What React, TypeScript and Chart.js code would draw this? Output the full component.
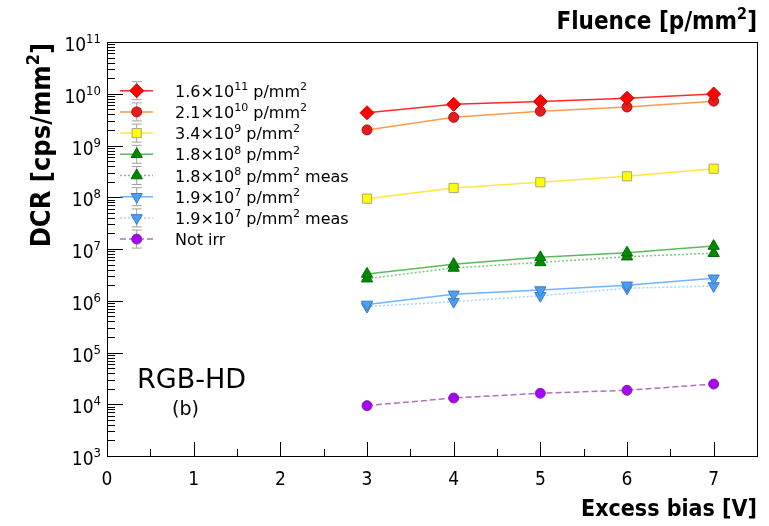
import React, { useEffect, useRef } from 'react';
import { Chart, registerables } from 'chart.js';

Chart.register(...registerables);

// ---------- data ----------
const biasV = [3, 4, 5, 6, 7];
const dcrF16e11 = [4.3e9, 6.25e9, 7.1e9, 8.2e9, 9.9e9];
const dcrF21e10 = [2.0e9, 3.5e9, 4.6e9, 5.55e9, 7.2e9];
const dcrF34e9 = [9.4e7, 1.51e8, 1.95e8, 2.54e8, 3.56e8];
const dcrF18e8 = [3.3e6, 5.1e6, 6.9e6, 8.5e6, 1.14e7];
const dcrF18e8Meas = [2.67e6, 4.3e6, 5.5e6, 7.1e6, 8.3e6];
const dcrF19e7 = [8.5e5, 1.33e6, 1.61e6, 1.99e6, 2.72e6];
const dcrF19e7Meas = [7.7e5, 9.6e5, 1.25e6, 1.74e6, 1.93e6];
const dcrNotIrr = [9.4e3, 1.32e4, 1.63e4, 1.86e4, 2.46e4];

const xTickLabels = ['0', '1', '2', '3', '4', '5', '6', '7'];
const yTickExponents = [3, 4, 5, 6, 7, 8, 9, 10, 11];

const legendMantissa = ['1.6', '2.1', '3.4', '1.8', '1.8', '1.9', '1.9', ''];
const legendExponent = ['11', '10', '9', '8', '8', '7', '7', ''];
const legendSuffix = ['', '', '', '', ' meas', '', ' meas', ''];
const legendPlain = ['', '', '', '', '', '', '', 'Not irr'];

const xTitle = 'Excess bias [V]';
const yTitle = 'DCR [cps/mm';
const topTitle = 'Fluence [p/mm';
const detectorLabel = 'RGB-HD';
const panelLabel = '(b)';

const FONT_C = '"DejaVu Sans Condensed", "DejaVu Sans", sans-serif';
const FONT_R = '"DejaVu Sans", sans-serif';

type Run = { t: string; sup?: boolean };

const seriesStyle = [
  { data: dcrF16e11, line: '#ff2a2a', fill: '#ff0000', border: '#e00000', shape: 'rectRot', r: 7, dash: [] as number[] },
  { data: dcrF21e10, line: '#ff9a4a', fill: '#e41c1c', border: '#b01515', shape: 'circle', r: 5, dash: [] as number[] },
  { data: dcrF34e9, line: '#ffe83a', fill: '#ffff00', border: '#a8a878', shape: 'rect', r: 6.5, dash: [] as number[] },
  { data: dcrF18e8, line: '#5cb85c', fill: '#008a00', border: '#006a00', shape: 'triangle', r: 6.5, dash: [] as number[] },
  { data: dcrF18e8Meas, line: '#7cc87c', fill: '#008a00', border: '#006a00', shape: 'triangle', r: 6.5, dash: [2, 2] },
  { data: dcrF19e7, line: '#70b4ff', fill: '#4d9ff0', border: '#3a7cc8', shape: 'triangleDown', r: 6.5, dash: [] as number[] },
  { data: dcrF19e7Meas, line: '#a8d2ff', fill: '#4d9ff0', border: '#3a7cc8', shape: 'triangleDown', r: 6.5, dash: [2, 2] },
  { data: dcrNotIrr, line: '#b070c0', fill: '#a800f8', border: '#7a30a0', shape: 'circle', r: 5, dash: [6, 3] },
];

function runWidth(ctx: CanvasRenderingContext2D, runs: Run[], size: number, weight: string, font: string) {
  let w = 0;
  for (const r of runs) {
    ctx.font = `${weight} ${r.sup ? Math.round(size * 0.68) : size}px ${font}`;
    w += ctx.measureText(r.t).width;
  }
  return w;
}

function drawRuns(
  ctx: CanvasRenderingContext2D,
  runs: Run[],
  x: number,
  y: number,
  size: number,
  weight: string,
  align: 'left' | 'right' | 'center',
  font: string = FONT_C
) {
  const w = runWidth(ctx, runs, size, weight, font);
  let cx = align === 'left' ? x : align === 'right' ? x - w : x - w / 2;
  ctx.textAlign = 'left';
  ctx.textBaseline = 'alphabetic';
  for (const r of runs) {
    const s = r.sup ? Math.round(size * 0.68) : size;
    ctx.font = `${weight} ${s}px ${font}`;
    ctx.fillText(r.t, cx, r.sup ? y - size * 0.42 : y);
    cx += ctx.measureText(r.t).width;
  }
}

function drawMarker(ctx: CanvasRenderingContext2D, shape: string, x: number, y: number, r: number, fill: string, border: string) {
  ctx.save();
  ctx.beginPath();
  if (shape === 'circle') {
    ctx.arc(x, y, r, 0, Math.PI * 2);
  } else if (shape === 'rect') {
    const s = Math.SQRT1_2 * r;
    ctx.rect(x - s, y - s, 2 * s, 2 * s);
  } else if (shape === 'rectRot') {
    ctx.moveTo(x - r, y);
    ctx.lineTo(x, y - r);
    ctx.lineTo(x + r, y);
    ctx.lineTo(x, y + r);
    ctx.closePath();
  } else {
    const dir = shape === 'triangle' ? 1 : -1;
    ctx.moveTo(x, y - dir * r);
    ctx.lineTo(x + r * 0.866, y + dir * r * 0.5);
    ctx.lineTo(x - r * 0.866, y + dir * r * 0.5);
    ctx.closePath();
  }
  ctx.fillStyle = fill;
  ctx.fill();
  ctx.lineWidth = 1;
  ctx.strokeStyle = border;
  ctx.stroke();
  ctx.restore();
}

const framePlugin = {
  id: 'rootFrame',
  afterDraw(chart: any) {
    const ctx: CanvasRenderingContext2D = chart.ctx;
    const xs = chart.scales.x;
    const ys = chart.scales.y;
    const { left, right, top, bottom } = chart.chartArea;
    ctx.save();
    ctx.strokeStyle = '#000';
    ctx.fillStyle = '#000';
    ctx.lineWidth = 1;

    // frame
    ctx.strokeRect(Math.round(left) + 0.5, Math.round(top) + 0.5, Math.round(right - left), Math.round(bottom - top));

    // x ticks
    ctx.beginPath();
    for (let v = 0; v <= 7.5 + 1e-6; v += 0.5) {
      const px = Math.round(xs.getPixelForValue(v)) + 0.5;
      const major = Math.abs(v - Math.round(v)) < 1e-6;
      const len = major ? 14 : 7;
      ctx.moveTo(px, bottom);
      ctx.lineTo(px, bottom - len);
    }
    ctx.stroke();

    // y ticks (log)
    ctx.beginPath();
    for (let i = 0; i < yTickExponents.length; i++) {
      const e = yTickExponents[i];
      const py = Math.round(ys.getPixelForValue(Math.pow(10, e))) + 0.5;
      ctx.moveTo(left, py);
      ctx.lineTo(left + 16, py);
      if (i < yTickExponents.length - 1) {
        for (let m = 2; m <= 9; m++) {
          const pm = Math.round(ys.getPixelForValue(m * Math.pow(10, e))) + 0.5;
          ctx.moveTo(left, pm);
          ctx.lineTo(left + 8, pm);
        }
      }
    }
    ctx.stroke();

    // x tick labels
    ctx.font = `19px ${FONT_C}`;
    ctx.textAlign = 'center';
    ctx.textBaseline = 'alphabetic';
    xTickLabels.forEach((lab) => {
      const px = xs.getPixelForValue(Number(lab));
      ctx.fillText(lab, px, bottom + 29);
    });

    // y tick labels
    yTickExponents.forEach((e) => {
      const py = ys.getPixelForValue(Math.pow(10, e));
      drawRuns(ctx, [{ t: '10' }, { t: String(e), sup: true }], left - 6, py + 9, 19, 'normal', 'right');
    });

    // axis titles
    drawRuns(ctx, [{ t: xTitle }], right, bottom + 60, 23, 'bold', 'right');
    drawRuns(ctx, [{ t: topTitle }, { t: '2', sup: true }, { t: ']' }], right, 29, 24, 'bold', 'right');
    ctx.save();
    ctx.translate(50, top + 1);
    ctx.rotate(-Math.PI / 2);
    drawRuns(ctx, [{ t: yTitle }, { t: '2', sup: true }, { t: ']' }], 0, 0, 27, 'bold', 'right');
    ctx.restore();

    // detector label
    drawRuns(ctx, [{ t: detectorLabel }], 137, 388, 27, 'normal', 'left', FONT_R);
    drawRuns(ctx, [{ t: panelLabel }], 172, 415, 19, 'normal', 'left', FONT_R);

    // legend
    const rowY0 = 90.7;
    const rowDy = 21.2;
    const mx = 136.7;
    for (let i = 0; i < seriesStyle.length; i++) {
      const s = seriesStyle[i];
      const y = rowY0 + i * rowDy;
      // error bar
      ctx.save();
      ctx.strokeStyle = '#a0a0a0';
      ctx.lineWidth = 1;
      ctx.beginPath();
      ctx.moveTo(mx, y - 9);
      ctx.lineTo(mx, y + 9);
      ctx.moveTo(mx - 5, y - 9);
      ctx.lineTo(mx + 5, y - 9);
      ctx.moveTo(mx - 5, y + 9);
      ctx.lineTo(mx + 5, y + 9);
      ctx.stroke();
      // line
      ctx.strokeStyle = s.line;
      ctx.lineWidth = 1.5;
      ctx.setLineDash(s.dash);
      ctx.beginPath();
      ctx.moveTo(120, y);
      ctx.lineTo(153, y);
      ctx.stroke();
      ctx.setLineDash([]);
      ctx.restore();
      drawMarker(ctx, s.shape, mx, y, s.r, s.fill, s.border);
      // text
      ctx.fillStyle = '#000';
      const runs: Run[] = legendPlain[i]
        ? [{ t: legendPlain[i] }]
        : [
            { t: legendMantissa[i] + '\u00d710' },
            { t: legendExponent[i], sup: true },
            { t: ' p/mm' },
            { t: '2', sup: true },
            { t: legendSuffix[i] },
          ];
      drawRuns(ctx, runs, 175, y + 6, 16, 'normal', 'left', FONT_R);
    }
    ctx.restore();
  },
};

export default function App() {
  const ref = useRef<HTMLCanvasElement | null>(null);
  useEffect(() => {
    document.body.style.margin = '0';
    const canvas = ref.current;
    if (!canvas) return;
    const datasets = seriesStyle.map((s) => ({
      data: biasV.map((x, i) => ({ x, y: s.data[i] })),
      borderColor: s.line,
      borderWidth: 1.5,
      borderDash: s.dash,
      backgroundColor: s.fill,
      pointBackgroundColor: s.fill,
      pointBorderColor: s.border,
      pointBorderWidth: 1,
      pointStyle: s.shape === 'triangleDown' ? 'triangle' : s.shape,
      pointRotation: s.shape === 'triangleDown' ? 180 : 0,
      pointRadius: s.r,
      pointHoverRadius: s.r,
      tension: 0,
      fill: false,
    }));
    const chart = new Chart(canvas, {
      type: 'line',
      data: { datasets: datasets as any },
      options: {
        animation: false,
        responsive: false,
        devicePixelRatio: 1,
        layout: { padding: { left: 107, top: 42, right: 12, bottom: 70 } },
        scales: {
          x: { type: 'linear', min: 0, max: 7.5, display: false },
          y: { type: 'logarithmic', min: 1e3, max: 1e11, display: false },
        },
        plugins: { legend: { display: false }, tooltip: { enabled: false } },
        events: [],
      },
      plugins: [framePlugin],
    });
    return () => chart.destroy();
  }, []);
  return (
    <div style={{ width: 769, height: 526, background: '#fff' }}>
      <canvas ref={ref} width={769} height={526} style={{ display: 'block' }} />
    </div>
  );
}
